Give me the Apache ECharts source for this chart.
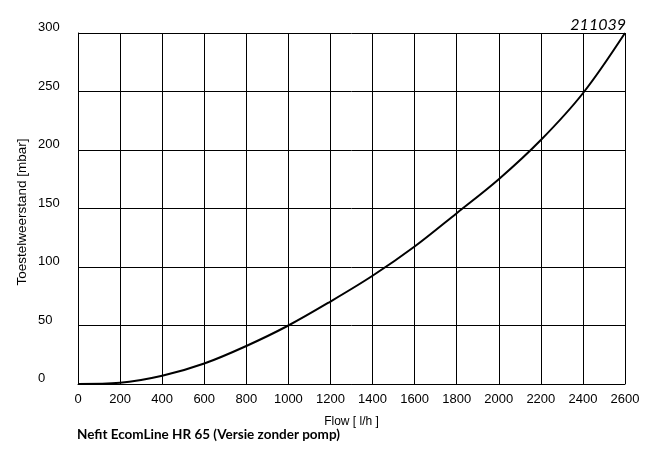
<!DOCTYPE html>
<html>
<head>
<meta charset="utf-8">
<script src="https://cdn.jsdelivr.net/npm/echarts@6/dist/echarts.min.js"></script>
<style>html,body{margin:0;padding:0;background:#fff}#c{width:645px;height:455px}</style>
</head>
<body>
<div id="c"></div>
<script>
var flow = [0, 200, 400, 600, 800, 1000, 1200, 1400, 1600, 1800, 2000, 2200, 2400, 2600];
var resistance = [0, 1, 7, 17.5, 32.5, 50, 70.5, 92.5, 117.5, 146, 175, 208.5, 248.5, 300];
var xTicks = [0, 200, 400, 600, 800, 1000, 1200, 1400, 1600, 1800, 2000, 2200, 2400, 2600];
var yTicks = [0, 50, 100, 150, 200, 250, 300];
var title = 'Nefit EcomLine HR 65 (Versie zonder pomp)';
var code = '211039';
var xName = 'Flow [ l/h ]';
var yName = 'Toestelweerstand [mbar]';

var chart = echarts.init(document.getElementById('c'));
var data = flow.map(function (f, i) { return [f, resistance[i]]; });
var sans = '"Liberation Sans", Arial, sans-serif';
chart.setOption({
  animation: false,
  grid: { left: 78, right: 20, top: 33, bottom: 71 },
  xAxis: {
    type: 'value', min: xTicks[0], max: xTicks[xTicks.length - 1], interval: 200,
    axisLine: { show: true, lineStyle: { color: '#000', width: 1 } },
    axisTick: { show: false },
    axisLabel: { color: '#000', fontFamily: sans, fontSize: 13, margin: 9, formatter: function (v) { return String(v); } },
    splitLine: { show: true, lineStyle: { color: '#000', width: 1 } },
    name: xName, nameLocation: 'middle', nameGap: 32,
    nameTextStyle: { color: '#000', fontFamily: sans, fontSize: 12 }
  },
  yAxis: {
    type: 'value', min: yTicks[0], max: yTicks[yTicks.length - 1], interval: 50,
    axisLine: { show: true, lineStyle: { color: '#000', width: 1 } },
    axisTick: { show: false },
    axisLabel: { color: '#000', fontFamily: sans, fontSize: 13, margin: 40, align: 'left', verticalAlign: 'bottom', lineHeight: 11, formatter: function (v) { return String(v); } },
    splitLine: { show: true, lineStyle: { color: '#000', width: 1 } }
  },
  graphic: [
    { type: 'text', left: 77, top: 428, style: { text: title, fill: '#000', font: 'bold 13.5px Lato' } },
    { type: 'text', right: 19, top: 17, style: { text: code, fill: '#000', font: 'italic 16px Lato' } },
    { type: 'text', x: 22, y: 212, rotation: Math.PI / 2, style: { text: yName, fill: '#000', font: '13.5px "Liberation Sans"', align: 'center', verticalAlign: 'middle' } }
  ],
  series: [{
    type: 'line', data: data, smooth: 0.35, symbol: 'none',
    lineStyle: { color: '#000', width: 2 }
  }]
});
</script>
</body>
</html>
